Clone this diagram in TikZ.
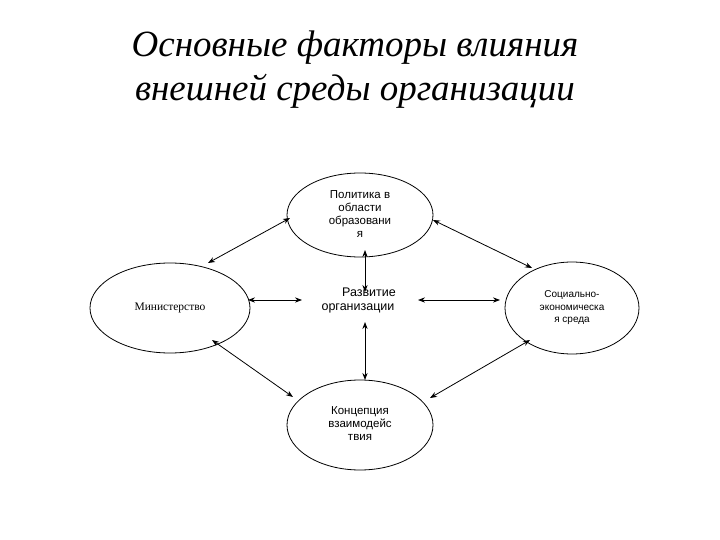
\documentclass[tikz,border=0pt]{standalone}
\usepackage{fontspec}
\setmainfont{Liberation Sans}
\newfontfamily\serif{Liberation Serif}
\usetikzlibrary{shapes.geometric,arrows.meta}
\begin{document}
\begin{tikzpicture}[x=1pt,y=-1pt,
  ell/.style={draw,thick,ellipse,inner sep=0pt},
  txt/.style={align=center,font=\fontsize{11.5}{13}\selectfont},
  arr/.style={{Stealth[length=7pt]}-{Stealth[length=7pt]},thick}]
\useasboundingbox (0,0) rectangle (720,540);
\node[font=\serif\itshape\fontsize{37}{44}\selectfont,align=center] (title) at (355,70) {Основные факторы влияния\\внешней среды организации};
\node[ell,minimum width=146,minimum height=84] (top) at (360,215) {};
\node[txt] (toptxt) at (360,214) {Политика в\\области\\образовани\\я};
\node[ell,minimum width=160,minimum height=90] (left) at (170,308) {};
\node[font=\serif\fontsize{11.5}{13}\selectfont] (lefttxt) at (170,308) {Министерство};
\node[ell,minimum width=134,minimum height=92] (right) at (572,308) {};
\node[txt,font=\fontsize{10}{12.5}\selectfont] (righttxt) at (572,308) {Социально-\\экономическа\\я среда};
\node[ell,minimum width=146,minimum height=90] (bot) at (360,425) {};
\node[txt] (bottxt) at (360,424) {Концепция\\взаимодейс\\твия};
\node[txt,font=\fontsize{12.5}{14}\selectfont] (center) at (358,300) {\hspace*{22pt}Развитие\\организации};
\coordinate (c1) at (208,263); \coordinate (c2) at (290,218);
\coordinate (c3) at (433,220); \coordinate (c4) at (532,268);
\coordinate (c5) at (212,340); \coordinate (c6) at (293,397);
\coordinate (c7) at (430,398); \coordinate (c8) at (530,340);
\coordinate (c9) at (248,300); \coordinate (c10) at (302,300);
\coordinate (c11) at (418,300); \coordinate (c12) at (500,300);
\coordinate (c13) at (365,250); \coordinate (c14) at (365,292);
\coordinate (c15) at (365,322); \coordinate (c16) at (365,380);
\draw[arr] (c1) -- (c2); \draw[arr] (c3) -- (c4);
\draw[arr] (c5) -- (c6); \draw[arr] (c7) -- (c8);
\draw[arr] (c9) -- (c10); \draw[arr] (c11) -- (c12);
\draw[arr] (c13) -- (c14); \draw[arr] (c15) -- (c16);
\end{tikzpicture}
\end{document}
